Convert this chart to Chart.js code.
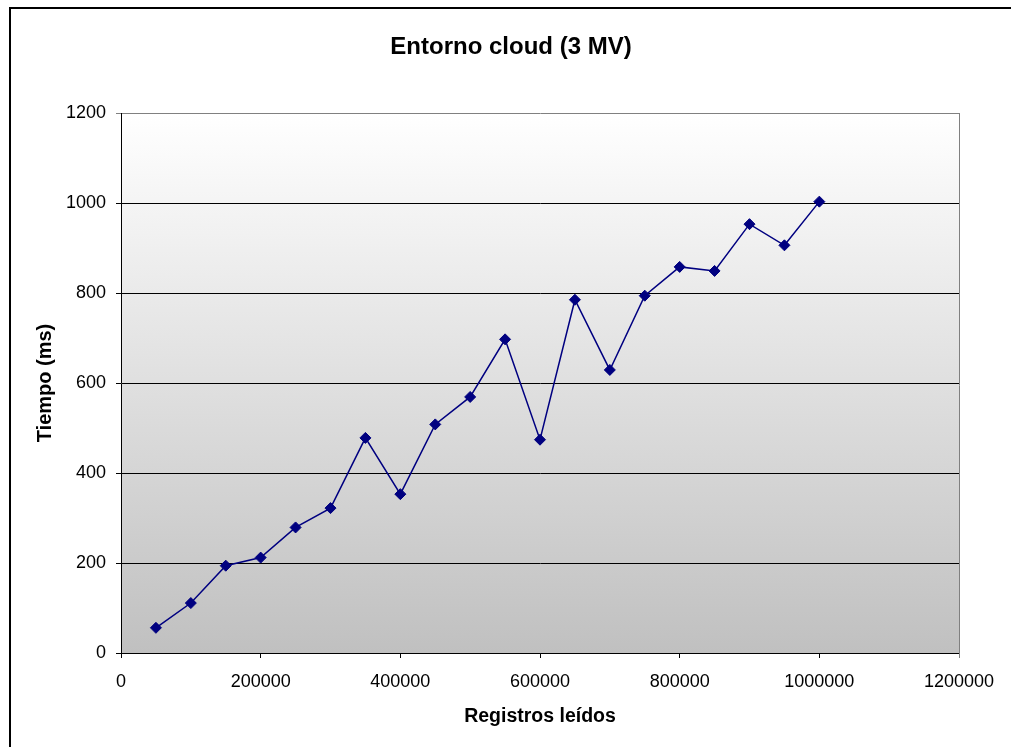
<!DOCTYPE html>
<html>
<head>
<meta charset="utf-8">
<script src="https://cdn.jsdelivr.net/npm/chart.js@4/dist/chart.umd.min.js"></script>
<style>
  html, body { margin: 0; padding: 0; background: #ffffff; }
  #wrap { width: 1011px; height: 747px; }
</style>
</head>
<body>
<div id="wrap"><canvas id="c" width="1011" height="747"></canvas></div>
<script>
// Records read per run and the measured time in milliseconds
const registros = [50000, 100000, 150000, 200000, 250000, 300000, 350000, 400000, 450000, 500000,
                   550000, 600000, 650000, 700000, 750000, 800000, 850000, 900000, 950000, 1000000];
const tiempos = [56, 111, 194, 212, 279, 322, 478, 353, 508, 569,
                 697, 474, 785, 629, 794, 858, 849, 953, 906, 1003];

const tituloGrafico = 'Entorno cloud (3 MV)';
const tituloX = 'Registros leídos';
const tituloY = 'Tiempo (ms)';

const xMin = 0, xMax = 1200000, xStep = 200000;
const yMin = 0, yMax = 1200, yStep = 200;

const puntos = registros.map((x, i) => ({ x: x, y: tiempos[i] }));

const FONT = '"Liberation Sans", Arial, sans-serif';

// Gradient fill behind the plot area, plus the gray right edge of the plot frame
const fondoPlot = {
  id: 'fondoPlot',
  beforeDraw(chart) {
    const { ctx, chartArea: a } = chart;
    const g = ctx.createLinearGradient(0, a.top, 0, a.bottom);
    g.addColorStop(0, '#ffffff');
    g.addColorStop(1, '#c0c0c0');
    ctx.save();
    ctx.fillStyle = g;
    ctx.fillRect(a.left, a.top, a.right - a.left, a.bottom - a.top);
    ctx.restore();
  },
  afterDraw(chart) {
    const { ctx, chartArea: a } = chart;
    ctx.save();
    ctx.strokeStyle = '#808080';
    ctx.lineWidth = 1;
    ctx.beginPath();
    ctx.moveTo(Math.round(a.right) + 0.5, a.top);
    ctx.lineTo(Math.round(a.right) + 0.5, a.bottom + 5);
    ctx.stroke();
    ctx.restore();
  }
};

// Chart title and the outer frame of the chart
const marco = {
  id: 'marco',
  afterDraw(chart) {
    const { ctx } = chart;
    ctx.save();
    ctx.strokeStyle = '#000000';
    ctx.lineWidth = 2;
    ctx.strokeRect(10, 8, chart.width + 20, chart.height + 20);
    ctx.fillStyle = '#000000';
    ctx.font = 'bold 24px ' + FONT;
    ctx.textAlign = 'center';
    ctx.textBaseline = 'middle';
    ctx.fillText(tituloGrafico, 511, 47);
    ctx.restore();
  }
};

new Chart(document.getElementById('c'), {
  type: 'scatter',
  data: {
    datasets: [{
      data: puntos,
      showLine: true,
      borderColor: '#000080',
      borderWidth: 1.5,
      backgroundColor: '#000080',
      pointStyle: 'rectRot',
      pointRadius: 5.5,
      pointHoverRadius: 5.5,
      pointBorderWidth: 1,
      tension: 0
    }]
  },
  options: {
    responsive: false,
    animation: false,
    layout: { padding: { top: 113, right: 52, left: 0, bottom: 0 } },
    plugins: {
      legend: { display: false },
      tooltip: { enabled: false },
      title: { display: false }
    },
    scales: {
      x: {
        type: 'linear',
        min: xMin,
        max: xMax,
        afterFit(scale) { scale.height = 94; },
        ticks: {
          stepSize: xStep,
          padding: 13,
          color: '#000000',
          font: { family: FONT, size: 18 },
          maxRotation: 0,
          autoSkip: false,
          callback: v => String(v)
        },
        grid: {
          drawOnChartArea: false,
          drawTicks: true,
          tickLength: 5,
          color: '#000000'
        },
        border: { display: true, color: '#000000', width: 1 },
        title: {
          display: true,
          text: tituloX,
          color: '#000000',
          font: { family: FONT, size: 19.5, weight: 'bold' },
          padding: { top: 0, bottom: 19 }
        }
      },
      y: {
        type: 'linear',
        min: yMin,
        max: yMax,
        afterFit(scale) { scale.width = 121; },
        ticks: {
          stepSize: yStep,
          padding: 10,
          color: '#000000',
          font: { family: FONT, size: 18 },
          callback: v => String(v)
        },
        grid: {
          drawTicks: true,
          tickLength: 5,
          color: ctx => (ctx.tick && ctx.tick.value === yMax) ? '#808080' : '#000000',
          lineWidth: 1
        },
        border: { display: true, color: '#000000', width: 1 },
        title: {
          display: true,
          text: tituloY,
          color: '#000000',
          font: { family: FONT, size: 20, weight: 'bold' },
          padding: { top: 33, bottom: 0 }
        }
      }
    }
  },
  plugins: [fondoPlot, marco]
});
</script>
</body>
</html>
